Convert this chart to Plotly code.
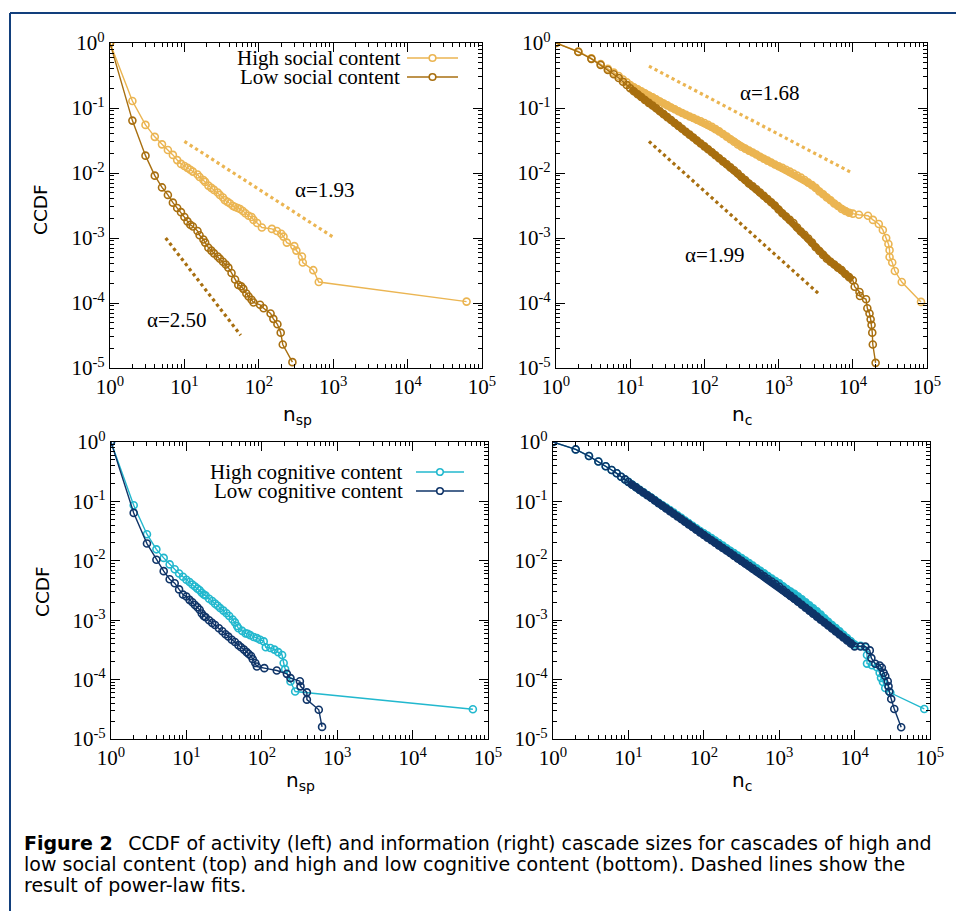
import plotly.graph_objects as go

# ---------------- data ----------------
# Top-left: activity cascade sizes n_sp, social content
TL_HIGH_X = [1, 2, 3, 4, 5, 6, 7, 8, 9, 10, 11, 12, 13, 15, 16, 18, 19, 21, 23, 25,
             28, 30, 33, 35, 38, 41, 45, 48, 52, 56, 61, 66, 73, 80, 85, 95, 110, 150, 175, 200,
             215, 238, 300, 320, 380, 390, 540, 640, 62000]
TL_HIGH_Y = [1, 0.128, 0.055, 0.036, 0.0276, 0.0226, 0.019, 0.0158, 0.0138, 0.0128,
             0.012, 0.0112, 0.0105, 0.0095, 0.0087, 0.0078, 0.0073, 0.0064, 0.0059, 0.0055,
             0.0050, 0.0046, 0.0042, 0.0038, 0.0036, 0.0034, 0.0031, 0.0030, 0.0029, 0.0028,
             0.0026, 0.0024, 0.0022, 0.0021, 0.0019, 0.0017, 0.00145, 0.00138, 0.00128, 0.00116,
             0.00105, 0.00085, 0.00075, 0.00064, 0.00052, 0.00042, 0.00032, 0.00021, 0.000105]
TL_LOW_X = [1, 2, 3, 4, 5, 6, 7, 8, 9, 10, 11, 12, 13, 15, 16, 18, 19, 21, 23, 25,
            28, 30, 33, 36, 39, 43, 48, 53, 58, 62, 68, 73, 80, 85, 104, 116, 144, 157, 178, 197,
            210, 283]
TL_LOW_Y = [1, 0.064, 0.0185, 0.0091, 0.006, 0.0046, 0.0035, 0.0029, 0.0025, 0.0021,
            0.0018, 0.0016, 0.0015, 0.00128, 0.0011, 0.00095, 0.00085, 0.00071, 0.00064, 0.00058,
            0.00052, 0.00048, 0.00043, 0.00039, 0.00035, 0.00029, 0.00023, 0.00019, 0.00018, 0.000165,
            0.00014, 0.000126, 0.000112, 0.000102, 0.000094, 0.000083, 0.000069, 0.000057, 0.000047, 0.000035,
            0.000023, 0.0000123]
TL_FIT_HIGH_X = [10, 1000]
TL_FIT_HIGH_Y = [0.0307, 0.00103]
TL_FIT_LOW_X = [5.6, 57]
TL_FIT_LOW_Y = [1.0e-3, 3.2e-5]

# sizes at which the dense parts of the right-hand curves were read
HEAD_N = [1, 2, 3, 4, 5, 6, 7, 8, 9]
DENSE_N = [10, 11.2, 12.6, 14.1, 15.8, 17.8, 20, 22.4, 25.1, 28.2,
           31.6, 35.5, 39.8, 44.7, 50.1, 56.2, 63.1, 70.8, 79.4, 89.1,
           100, 112, 126, 141, 158, 178, 200, 224, 251, 282,
           316, 355, 398, 447, 501, 562, 631, 708, 794, 891,
           1000, 1122, 1259, 1413, 1585, 1778, 1995, 2239, 2512, 2818,
           3162, 3548, 3981, 4467, 5012, 5623, 6310, 7079, 7943, 8913,
           10000]

# Top-right: information cascade sizes n_c, social content
TR_HIGH_HEAD_Y = [1, 0.74, 0.58, 0.475, 0.40, 0.35, 0.31, 0.275, 0.248]
TR_HIGH_DENSE_Y = [0.225, 0.209, 0.194, 0.180, 0.168, 0.156, 0.146, 0.1355, 0.126, 0.1175,
                   0.1096, 0.102, 0.0955, 0.089, 0.0838, 0.0789, 0.0741, 0.070, 0.066, 0.0624,
                   0.0589, 0.055, 0.0513, 0.0473, 0.0437, 0.0398, 0.0363, 0.0331, 0.0302, 0.0275,
                   0.0254, 0.0237, 0.0221, 0.0207, 0.0193, 0.0178, 0.0166, 0.0155, 0.0145, 0.0135,
                   0.0127, 0.0120, 0.0112, 0.0105, 0.0098, 0.0091, 0.0085, 0.0078, 0.0071, 0.0065,
                   0.0059, 0.0052, 0.0047, 0.0042, 0.0038, 0.0034, 0.0031, 0.0028, 0.0026, 0.00245,
                   0.00237]
TR_HIGH_TAIL_X = [12100, 16000, 18700, 22400, 25400, 28200, 30200, 31300, 31300, 34000, 36900, 45700, 83000]
TR_HIGH_TAIL_Y = [0.00228, 0.0022, 0.0019, 0.00164, 0.00133, 0.001, 0.00081, 0.00065, 0.00051,
                  0.00042, 0.00031, 0.00021, 0.000104]
TR_LOW_HEAD_Y = [1, 0.73, 0.57, 0.46, 0.385, 0.33, 0.29, 0.254, 0.226]
TR_LOW_DENSE_Y = [0.201, 0.181, 0.163, 0.148, 0.133, 0.120, 0.109, 0.0989, 0.0891, 0.0804,
                  0.0724, 0.0653, 0.0589, 0.0531, 0.0479, 0.0432, 0.0389, 0.0351, 0.0316, 0.0285,
                  0.0257, 0.0232, 0.0209, 0.0188, 0.0169, 0.0151, 0.0136, 0.0122, 0.011, 0.0098,
                  0.0087, 0.0078, 0.0069, 0.00624, 0.00562, 0.0050, 0.00447, 0.00398, 0.00355, 0.00316,
                  0.00275, 0.0024, 0.00214, 0.0019, 0.0017, 0.00145, 0.00126, 0.00112, 0.00098, 0.00085,
                  0.00072, 0.00063, 0.00055, 0.00048, 0.00043, 0.00039, 0.00035, 0.00032, 0.00028, 0.00025,
                  0.000224]
TR_LOW_TAIL_X = [10600, 12300, 12500, 15100, 15700, 16800, 17400, 17900, 18300, 18600, 20300]
TR_LOW_TAIL_Y = [0.000178, 0.000148, 0.000128, 0.000114, 0.000083, 0.000069, 0.000056, 0.000046,
                 0.000035, 0.000023, 0.000012]
TR_FIT_HIGH_X = [17.9, 9800]
TR_FIT_HIGH_Y = [0.44, 0.01]
TR_FIT_LOW_X = [17.9, 3400]
TR_FIT_LOW_Y = [0.0307, 1.42e-4]

# Bottom-left: activity cascade sizes n_sp, cognitive content
BL_HIGH_X = [1, 2, 3, 4, 5, 6, 7, 8, 9, 10, 11, 12, 13, 14, 15, 16, 17, 18, 20, 22,
             24, 26, 28, 31, 34, 37, 41, 44, 47, 49, 55, 61, 65, 70, 78, 86, 95, 106, 113, 130,
             147, 165, 186, 195, 204, 240, 277, 63000]
BL_HIGH_Y = [1, 0.086, 0.028, 0.0156, 0.0112, 0.0087, 0.0072, 0.0061, 0.0054, 0.0048,
             0.0044, 0.0040, 0.0037, 0.0034, 0.0032, 0.0029, 0.0027, 0.0026, 0.0023, 0.0021,
             0.0019, 0.00175, 0.0016, 0.00145, 0.00131, 0.00118, 0.00103, 0.00092, 0.0008, 0.00073,
             0.00066, 0.0006, 0.00059, 0.00056, 0.00052, 0.0005, 0.00047, 0.00044, 0.00035, 0.00034,
             0.00032, 0.00029, 0.00026, 0.00019, 0.00015, 0.000093, 0.000063, 0.0000317]
BL_LOW_X = [1, 2, 3, 4, 5, 6, 7, 8, 9, 10, 11, 12, 13, 14, 15, 16, 17, 18, 20, 22,
            24, 27, 30, 33, 36, 40, 44, 49, 53, 58, 63, 67, 72, 76, 82, 86, 108, 158, 215, 240,
            320, 326, 396, 396, 570, 630]
BL_LOW_Y = [1, 0.064, 0.0195, 0.0104, 0.0067, 0.0049, 0.0042, 0.0033, 0.0027, 0.0025,
            0.0022, 0.002, 0.0018, 0.00165, 0.0015, 0.0013, 0.00118, 0.00112, 0.001, 0.0009,
            0.00083, 0.00073, 0.00065, 0.00058, 0.00053, 0.00047, 0.00043, 0.00038, 0.00035, 0.00032,
            0.00029, 0.00027, 0.00025, 0.00022, 0.00019, 0.000166, 0.000156, 0.000142, 0.000125, 0.000106,
            0.000094, 0.000077, 0.000061, 0.000046, 0.000031, 0.000016]

# Bottom-right: information cascade sizes n_c, cognitive content
BR_HIGH_HEAD_Y = [1, 0.75, 0.58, 0.47, 0.39, 0.338, 0.297, 0.26, 0.235]
BR_HIGH_DENSE_Y = [0.213, 0.192, 0.174, 0.157, 0.142, 0.128, 0.116, 0.105, 0.0945, 0.0858,
                   0.0785, 0.0715, 0.0648, 0.0585, 0.0528, 0.0477, 0.043, 0.0389, 0.0352, 0.0318,
                   0.0291, 0.0265, 0.0241, 0.022, 0.0199, 0.018, 0.0163, 0.0148, 0.0135, 0.0122,
                   0.0111, 0.0101, 0.00915, 0.00828, 0.0075, 0.00678, 0.00614, 0.00554, 0.00503, 0.00455,
                   0.0042, 0.00372, 0.00335, 0.00305, 0.00278, 0.0025, 0.00224, 0.002, 0.00178, 0.00158,
                   0.00141, 0.00124, 0.00108, 0.00094, 0.00083, 0.00074, 0.00065, 0.00057, 0.0005, 0.00044,
                   0.00039]
BR_HIGH_TAIL_X = [12000, 13900, 14600, 14600, 17000, 19800, 21500, 22400, 23800, 25500, 29800, 84000]
BR_HIGH_TAIL_Y = [0.00037, 0.00035, 0.00026, 0.000186, 0.000174, 0.000162, 0.00013, 0.000107,
                  0.000091, 0.000072, 0.00006, 0.000032]
BR_LOW_HEAD_Y = [1, 0.75, 0.58, 0.47, 0.39, 0.338, 0.297, 0.26, 0.235]
BR_LOW_DENSE_Y = [0.212, 0.191, 0.173, 0.156, 0.141, 0.127, 0.115, 0.1035, 0.0933, 0.0843,
                  0.076, 0.0686, 0.0619, 0.0558, 0.0504, 0.0455, 0.041, 0.037, 0.0334, 0.0301,
                  0.0272, 0.0245, 0.0222, 0.0201, 0.0182, 0.0164, 0.0149, 0.0135, 0.0122, 0.011,
                  0.00998, 0.00902, 0.00817, 0.00738, 0.00668, 0.00604, 0.00547, 0.00494, 0.00448, 0.00405,
                  0.00366, 0.00324, 0.00288, 0.00257, 0.00229, 0.00204, 0.00182, 0.00162, 0.00145, 0.00129,
                  0.00115, 0.00102, 0.000912, 0.000813, 0.000724, 0.000646, 0.000575, 0.000513, 0.000457, 0.000407,
                  0.000363]
BR_LOW_TAIL_X = [12000, 13900, 15900, 16700, 18800, 21500, 23000, 24300, 25500, 27500, 28200, 28800,
                 30600, 33600, 41500]
BR_LOW_TAIL_Y = [0.00036, 0.00036, 0.00031, 0.00023, 0.000185, 0.000173, 0.000158, 0.00013, 0.000115,
                 0.000094, 0.000077, 0.000063, 0.000047, 0.000032, 0.0000158]

X_TICKS = [1, 10, 100, 1000, 10000, 100000]
X_TICK_TEXT = ["10<sup>0</sup>", "10<sup>1</sup>", "10<sup>2</sup>", "10<sup>3</sup>",
               "10<sup>4</sup>", "10<sup>5</sup>"]
Y_TICKS = [1e-5, 1e-4, 1e-3, 1e-2, 1e-1, 1]
Y_TICK_TEXT = ["10<sup>-5</sup>", "10<sup>-4</sup>", "10<sup>-3</sup>", "10<sup>-2</sup>",
               "10<sup>-1</sup>", "10<sup>0</sup>"]

# ---------------- styling ----------------
LIGHT_GOLD = "#EBB552"
DARK_GOLD = "#A86F10"
CYAN = "#22B8CE"
NAVY = "#0F3468"
FRAME = "#123F7C"
SERIF = "Liberation Serif"
SANS = "DejaVu Sans"

W, H = 956, 911


def PX(x):
    return x / W


def PY(y):
    return 1 - y / H


def minor_vals(lo_exp, hi_exp):
    out = []
    for e in range(lo_exp, hi_exp):
        for m in range(2, 10):
            out.append(m * 10.0 ** e)
    return out


fig = go.Figure()


def series(x, y, color, axis):
    fig.add_trace(go.Scatter(
        x=x, y=y, mode="lines+markers", xaxis="x" + axis, yaxis="y" + axis,
        line=dict(color=color, width=1.4),
        marker=dict(symbol="circle-open", size=7, color=color, line=dict(width=1.6, color=color)),
        showlegend=False, hoverinfo="skip"))


def band(x, y, color, axis):
    # the densely packed stretch of a curve, where the markers merge into a thick band
    fig.add_trace(go.Scatter(
        x=x, y=y, mode="lines", xaxis="x" + axis, yaxis="y" + axis,
        line=dict(color=color, width=7), showlegend=False, hoverinfo="skip"))


def fit(x, y, color, axis):
    fig.add_trace(go.Scatter(
        x=x, y=y, mode="lines", xaxis="x" + axis, yaxis="y" + axis,
        line=dict(color=color, width=3.2, dash="dot"),
        showlegend=False, hoverinfo="skip"))


# top-left
series(TL_HIGH_X, TL_HIGH_Y, LIGHT_GOLD, "")
series(TL_LOW_X, TL_LOW_Y, DARK_GOLD, "")
fit(TL_FIT_HIGH_X, TL_FIT_HIGH_Y, LIGHT_GOLD, "")
fit(TL_FIT_LOW_X, TL_FIT_LOW_Y, DARK_GOLD, "")
# top-right
band(DENSE_N, TR_HIGH_DENSE_Y, LIGHT_GOLD, "2")
series(HEAD_N + DENSE_N + TR_HIGH_TAIL_X, TR_HIGH_HEAD_Y + TR_HIGH_DENSE_Y + TR_HIGH_TAIL_Y, LIGHT_GOLD, "2")
band(DENSE_N, TR_LOW_DENSE_Y, DARK_GOLD, "2")
series(HEAD_N + DENSE_N + TR_LOW_TAIL_X, TR_LOW_HEAD_Y + TR_LOW_DENSE_Y + TR_LOW_TAIL_Y, DARK_GOLD, "2")
fit(TR_FIT_HIGH_X, TR_FIT_HIGH_Y, LIGHT_GOLD, "2")
fit(TR_FIT_LOW_X, TR_FIT_LOW_Y, DARK_GOLD, "2")
# bottom-left
series(BL_HIGH_X, BL_HIGH_Y, CYAN, "3")
series(BL_LOW_X, BL_LOW_Y, NAVY, "3")
# bottom-right
band(DENSE_N, BR_HIGH_DENSE_Y, CYAN, "4")
series(HEAD_N + DENSE_N + BR_HIGH_TAIL_X, BR_HIGH_HEAD_Y + BR_HIGH_DENSE_Y + BR_HIGH_TAIL_Y, CYAN, "4")
band(DENSE_N, BR_LOW_DENSE_Y, NAVY, "4")
series(HEAD_N + DENSE_N + BR_LOW_TAIL_X, BR_LOW_HEAD_Y + BR_LOW_DENSE_Y + BR_LOW_TAIL_Y, NAVY, "4")

panels = {
    "": ((110, 482), (43, 368)),
    "2": ((556, 927), (43, 368)),
    "3": ((111, 488), (442, 739)),
    "4": ((553, 930), (442, 739)),
}

tick_font = dict(family=SERIF, size=21, color="black")
layout_axes = {}
for key, ((x0, x1), (y0, y1)) in panels.items():
    common = dict(type="log", ticks="inside", ticklen=9, tickwidth=1, tickcolor="black",
                  showline=True, linecolor="black", linewidth=1.3, mirror="allticks",
                  showgrid=False, zeroline=False, tickfont=tick_font, tickmode="array",
                  automargin=False)
    ax_x = dict(common, domain=[PX(x0), PX(x1)], range=[0, 5], tickvals=X_TICKS, ticktext=X_TICK_TEXT,
                anchor="y" + key,
                minor=dict(tickmode="array", tickvals=minor_vals(0, 5), ticks="inside", ticklen=4,
                           tickcolor="black", showgrid=False))
    ax_y = dict(common, domain=[PY(y1), PY(y0)], range=[-5, 0], tickvals=Y_TICKS, ticktext=Y_TICK_TEXT,
                anchor="x" + key,
                minor=dict(tickmode="array", tickvals=minor_vals(-5, 0), ticks="inside", ticklen=4,
                           tickcolor="black", showgrid=False))
    layout_axes["xaxis" + key] = ax_x
    layout_axes["yaxis" + key] = ax_y

fig.update_layout(width=W, height=H, margin=dict(l=0, r=0, t=0, b=0, pad=0, autoexpand=False),
                  paper_bgcolor="white", plot_bgcolor="white", showlegend=False, **layout_axes)

annotations = []


def text(x, y, s, size=21, family=SERIF, xanchor="center", angle=0):
    annotations.append(dict(x=PX(x), y=PY(y), xref="paper", yref="paper", text=s, showarrow=False,
                            xanchor=xanchor, yanchor="middle", textangle=angle,
                            font=dict(family=family, size=size, color="black")))


# fit labels
text(325, 190, "α=1.93")
text(177, 320, "α=2.50")
text(770, 93, "α=1.68")
text(715, 255, "α=1.99")
# axis titles
text(40, 210, "CCDF", size=18.5, family=SANS, angle=-90)
text(42, 592, "CCDF", size=18.5, family=SANS, angle=-90)
text(297, 415, "n<sub>sp</sub>", size=20, family=SANS)
text(742, 415, "n<sub>c</sub>", size=20, family=SANS)
text(300, 781, "n<sub>sp</sub>", size=20, family=SANS)
text(742, 781, "n<sub>c</sub>", size=20, family=SANS)

# legends (text right-aligned, sample on the right)
text(402, 58, "High social content", xanchor="right")
text(402, 77, "Low social content", xanchor="right")
text(405, 472, "High cognitive content", xanchor="right")
text(405, 491, "Low cognitive content", xanchor="right")

# caption
cap_font = dict(family=SANS, size=19, color="black")
cap_lines = [
    (843, "<b>Figure 2</b>\u2002 CCDF of activity (left) and information (right) cascade sizes for cascades of high and"),
    (864, "low social content (top) and high and low cognitive content (bottom). Dashed lines show the"),
    (885, "result of power-law fits."),
]
for yy, s in cap_lines:
    annotations.append(dict(x=PX(22), y=PY(yy), xref="paper", yref="paper", text=s, showarrow=False,
                            xanchor="left", yanchor="middle", font=cap_font))

shapes = []
# legend samples
for (lx0, lx1, ly, col) in [(407, 458, 58, LIGHT_GOLD), (407, 458, 77, DARK_GOLD),
                            (416, 464, 472, CYAN), (416, 464, 491, NAVY)]:
    shapes.append(dict(type="line", xref="paper", yref="paper", x0=PX(lx0), x1=PX(lx1), y0=PY(ly), y1=PY(ly),
                       line=dict(color=col, width=1.4)))
    cx = (lx0 + lx1) / 2
    shapes.append(dict(type="circle", xref="paper", yref="paper", x0=PX(cx - 3.3), x1=PX(cx + 3.3),
                       y0=PY(ly + 3.3), y1=PY(ly - 3.3), line=dict(color=col, width=1.6),
                       fillcolor="white"))
# page frame
shapes.append(dict(type="line", xref="paper", yref="paper", x0=PX(10), x1=1, y0=PY(13), y1=PY(13),
                   line=dict(color=FRAME, width=2)))
shapes.append(dict(type="line", xref="paper", yref="paper", x0=PX(10), x1=PX(10), y0=PY(13), y1=0,
                   line=dict(color=FRAME, width=2)))

fig.update_layout(annotations=annotations, shapes=shapes)
fig.write_html("out.html", config={"displayModeBar": False},
               post_script="document.body.style.margin='0';")
